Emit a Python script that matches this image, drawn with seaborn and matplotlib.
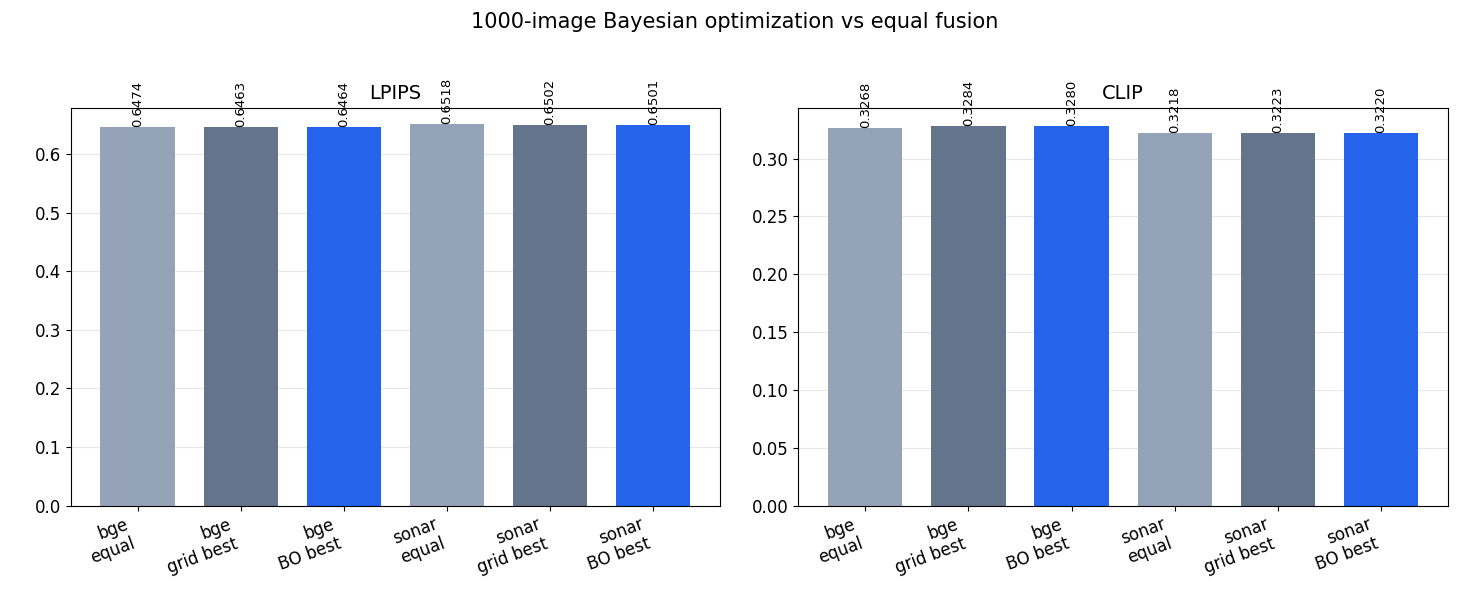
import matplotlib
matplotlib.use("Agg")
import matplotlib.pyplot as plt
import seaborn as sns
import pandas as pd

labels = ["bge\nequal", "bge\ngrid best", "bge\nBO best", "sonar\nequal", "sonar\ngrid best", "sonar\nBO best"]
lpips = [0.6474, 0.6463, 0.6464, 0.6518, 0.6502, 0.6501]
clip = [0.3268, 0.3284, 0.3280, 0.3218, 0.3223, 0.3220]
colors = ["#94a3b8", "#64748b", "#2563eb", "#94a3b8", "#64748b", "#2563eb"]

sns.set_style("ticks")
plt.rcParams['font.family'] = ['DejaVu Sans']
plt.rcParams['text.color'] = 'black'
plt.rcParams['xtick.color'] = 'black'
plt.rcParams['ytick.color'] = 'black'
plt.rcParams['axes.edgecolor'] = 'black'
fig, axes = plt.subplots(1, 2, figsize=(14.7, 6.15), dpi=100)
for ax, vals, title in [(axes[0], lpips, "LPIPS"), (axes[1], clip, "CLIP")]:
    df = pd.DataFrame({"label": labels, "value": vals})
    sns.barplot(data=df, x="label", y="value", hue="label", palette=colors, width=0.72,
                legend=False, ax=ax, saturation=1, linewidth=0, edgecolor="none")
    ax.set_title(title, fontsize=14, color="black")
    ax.set_xlabel("")
    ax.set_ylabel("")
    ax.yaxis.grid(True, color="#e8e8e8")
    ax.set_axisbelow(True)
    ax.tick_params(labelsize=12)
    ax.set_xticks(range(len(labels)))
    ax.set_xticklabels(labels, rotation=20, ha="right", rotation_mode="default")
    ax.set_xlim(-0.65, 5.65)
    for i, v in enumerate(vals):
        ax.text(i, v, f"{v:.4f}", rotation=90, ha="center", va="bottom", fontsize=9.5)
axes[0].set_ylim(0, 0.68)
axes[1].set_ylim(0, 0.344)
fig.suptitle("1000-image Bayesian optimization vs equal fusion", fontsize=15)
fig.subplots_adjust(left=0.048, right=0.985, top=0.825, bottom=0.178, wspace=0.12)
fig.savefig("out.png")
